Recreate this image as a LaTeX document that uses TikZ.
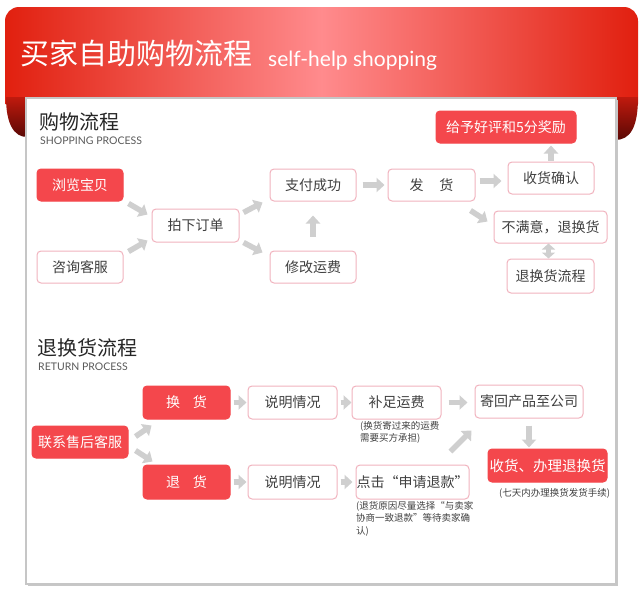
\documentclass[tikz,border=0pt]{standalone}
\usepackage{fontspec}
\setmainfont{Noto Sans CJK SC}
\newfontfamily\lato{Lato}
\usetikzlibrary{arrows.meta}
\definecolor{bred}{HTML}{F4474C}
\definecolor{pinkb}{HTML}{F1B3BE}
\definecolor{agray}{HTML}{CFCFCF}
\definecolor{tgray}{HTML}{404040}
\definecolor{bannerA}{HTML}{E1200F}
\definecolor{bannerB}{HTML}{FF8B8D}
\definecolor{curlA}{HTML}{C01A0E}
\definecolor{curlB}{HTML}{5A0804}
\definecolor{panelb}{HTML}{C6C6C6}
\tikzset{
  box/.style={draw=pinkb, line width=1pt, fill=white, rounded corners=4pt, inner sep=0pt,
    text=tgray, font=\fontsize{14}{16}\selectfont, minimum height=32pt},
  redbox/.style={box, draw=bred, fill=bred, text=white},
  garrow/.style={draw=agray, line width=5.5pt, -{Triangle[length=8pt,width=14pt]}},
  gdouble/.style={draw=agray, line width=5.5pt, {Triangle[length=6pt,width=13pt]}-{Triangle[length=6pt,width=13pt]}},
  note/.style={text=tgray, font=\fontsize{9.5}{12.5}\selectfont, align=left, inner sep=0pt, anchor=north west},
  headcn/.style={anchor=west, inner sep=0pt, text={black!85}, font=\fontsize{20}{22}\selectfont},
  headen/.style={anchor=west, inner sep=0pt, text={black!65}, font=\lato\fontsize{10.5}{12}\selectfont},
}
\begin{document}
\begin{tikzpicture}[x=1pt,y=-1pt]
\useasboundingbox (0,0) rectangle (643,597);
\fill[white] (0,0) rectangle (643,597);
% banner
\shade[left color=bannerA, right color=bannerA, middle color=bannerB]
  (5,104) -- (5,21) arc[start angle=180,end angle=270,radius=14] -- (624,7)
  arc[start angle=270,end angle=360,radius=14] -- (638,104) -- cycle;
% curls
\shade[top color=curlA, bottom color=curlB]
  (27,97) -- (6,97) .. controls (6,124) and (14,137) .. (27,137) -- cycle;
\shade[top color=curlA, bottom color=curlB]
  (615,97) -- (638,97) .. controls (638,128) and (630,140) .. (615,140) -- cycle;
% panel
\fill[black!22] (27.5,99.5) rectangle (618,586);
\draw[draw=panelb, fill=white, line width=1.2pt] (26,98) rectangle (616,584);
% title
\node[anchor=west, inner sep=0pt, text=white, font=\fontsize{29}{31}\selectfont] (title) at (20,53) {买家自助购物流程};
\node[anchor=base west, inner sep=0pt, text=white, font=\lato\fontsize{21}{24}\selectfont] (subtitle) at (268,66) {self-help shopping};
% section headings
\node[headcn] (h1) at (39,122) {购物流程};
\node[headen] (h1e) at (40,141) {SHOPPING PROCESS};
\node[headcn] (h2) at (37,348) {退换货流程};
\node[headen] (h2e) at (38,367) {RETURN PROCESS};
% shopping nodes
\node[redbox, minimum width=86pt] (b1) at (80,185) {浏览宝贝};
\node[box, minimum width=86pt] (b2) at (80,267) {咨询客服};
\node[box, minimum width=87pt, minimum height=33pt] (b3) at (195.5,225.5) {拍下订单};
\node[box, minimum width=86pt] (b4) at (313,185) {支付成功};
\node[box, minimum width=86pt] (b5) at (313,267) {修改运费};
\node[box, minimum width=87pt] (b6) at (431.5,185) {发\hspace{16pt}货};
\node[box, minimum width=86pt] (b7) at (551,178) {收货确认};
\node[redbox, minimum width=140pt] (b8) at (506,127) {给予好评和5分奖励};
\node[box, minimum width=113pt] (b9) at (550.5,227) {不满意，退换货};
\node[box, minimum width=87pt, minimum height=34pt] (b10) at (550.5,276) {退换货流程};
% return nodes
\node[redbox, minimum width=96pt] (r1) at (80,442) {联系售后客服};
\node[redbox, minimum width=87pt, minimum height=33pt] (r2) at (186.5,402.5) {换\hspace{13pt}货};
\node[redbox, minimum width=87pt, minimum height=34pt] (r3) at (186.5,482) {退\hspace{13pt}货};
\node[box, minimum width=89pt, minimum height=33pt] (r4) at (292.5,402.5) {说明情况};
\node[box, minimum width=89pt, minimum height=34pt] (r5) at (292.5,482) {说明情况};
\node[box, minimum width=89pt, minimum height=33pt] (r6) at (396.5,402.5) {补足运费};
\node[box, minimum width=108pt, minimum height=33pt] (r7) at (529,401.5) {寄回产品至公司};
\node[box, minimum width=113pt, minimum height=34pt] (r8) at (412.5,482) {点击“申请退款”};
\node[redbox, minimum width=119pt, minimum height=33pt, font=\fontsize{14.5}{16}\selectfont] (r9) at (547.5,465.5) {收货、办理退换货};
% notes
\node[note] (n1) at (360,421) {(换货寄过来的运费\\需要买方承担)};
\node[note] (n2) at (356,501) {(退货原因尽量选择“与卖家\\协商一致退款”等待卖家确\\认)};
\node[note] (n3) at (499,488) {(七天内办理换货发货手续)};
% shopping arrows
\draw[garrow] ([shift={(5,2)}]b1.south east) -- ([shift={(-4,6)}]b3.north west);
\draw[garrow] ([shift={(5,1)}]b2.north east) -- ([shift={(-4,-2)}]b3.south west);
\draw[garrow] ([shift={(4,4)}]b3.north east) -- ([shift={(-7,1)}]b4.south west);
\draw[garrow] ([shift={(4,0)}]b3.south east) -- ([shift={(-7,2)}]b5.north west);
\draw[garrow, shorten <=14pt, shorten >=14pt] (b5.north) -- (b4.south);
\draw[garrow, shorten <=6pt, shorten >=3pt] (b4.east) -- (b6.west);
\draw[garrow] ([shift={(4,-4)}]b6.east) -- ([shift={(-6,3)}]b7.west);
\draw[garrow] ([shift={(-5,9)}]b6.south east) -- ([shift={(-6,11)}]b9.north west);
\draw[garrow, shorten <=1pt, shorten >=2pt] (b7.north) -- (b7.north |- b8.south);
\draw[gdouble] ([xshift=-2pt]b9.south) -- ([xshift=-2pt]b10.north);
% return arrows
\draw[garrow] ([shift={(7,11)}]r1.north east) -- ([shift={(9,6)}]r2.south west);
\draw[garrow] ([shift={(7,-8)}]r1.south east) -- ([shift={(10,-3)}]r3.north west);
\draw[garrow, shorten <=3pt, shorten >=1pt] (r2.east) -- (r4.west);
\draw[garrow, shorten <=3pt, shorten >=1pt] (r3.east) -- (r5.west);
\draw[garrow, shorten <=3pt, shorten >=0pt] (r4.east) -- (r6.west);
\draw[garrow, shorten <=3pt, shorten >=3pt] (r5.east) -- (r8.west);
\draw[garrow, shorten <=7pt, shorten >=7pt] (r6.east) -- (r6.east -| r7.west);
\draw[garrow] ([shift={(-19,-13)}]r8.north east) -- ([shift={(-3,12)}]r7.south west);
\draw[garrow, shorten <=7pt, shorten >=1pt] (r7.south) -- (r7.south |- r9.north);
\end{tikzpicture}
\end{document}
